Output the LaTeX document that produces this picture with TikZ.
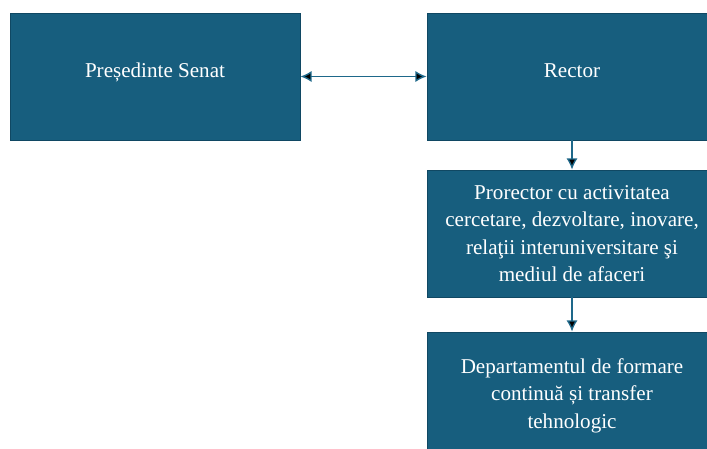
\documentclass[tikz,border=0pt]{standalone}
\usepackage{fontspec}
\setmainfont{Liberation Serif}
\usepackage{tikz}
\usetikzlibrary{arrows.meta}

\definecolor{boxblue}{RGB}{23,94,126}
\definecolor{boxline}{RGB}{16,72,99}
\definecolor{arrblue}{RGB}{30,104,138}

\begin{document}
\begin{tikzpicture}[
  unit/.style={draw=boxline, fill=boxblue, line width=0.6pt, text=white,
    minimum width=7.25cm, minimum height=3.175cm, inner sep=0pt,
    align=center, font=\fontsize{15}{19.5}\selectfont},
  link/.style={draw=arrblue, line width=1pt}
]
\useasboundingbox (0,0) rectangle (17.675,-11.2);
\clip (0,0) rectangle (17.675,-11.2);

\node[unit] (senat) at (3.875,-1.9125) {\raisebox{0.3cm}{Președinte Senat}};
\node[unit] (rector) at (14.3,-1.9125) {\raisebox{0.3cm}{Rector}};
\node[unit] (prorector) at (14.3,-5.8375)
  {Prorector cu activitatea\\ cercetare, dezvoltare, inovare,\\ relaţii interuniversitare şi\\ mediul de afaceri};
\node[unit] (dep) at (14.3,-9.8875)
  {Departamentul de formare\\ continuă și transfer\\ tehnologic};

\path [link, {Latex[length=8pt,width=8pt]}-{Latex[length=8pt,width=8pt]}]
(senat) edge (rector);
\path [link, -{Latex[length=8pt,width=8pt]}]
(rector) edge (prorector)
(prorector) edge (dep);
\end{tikzpicture}
\end{document}
